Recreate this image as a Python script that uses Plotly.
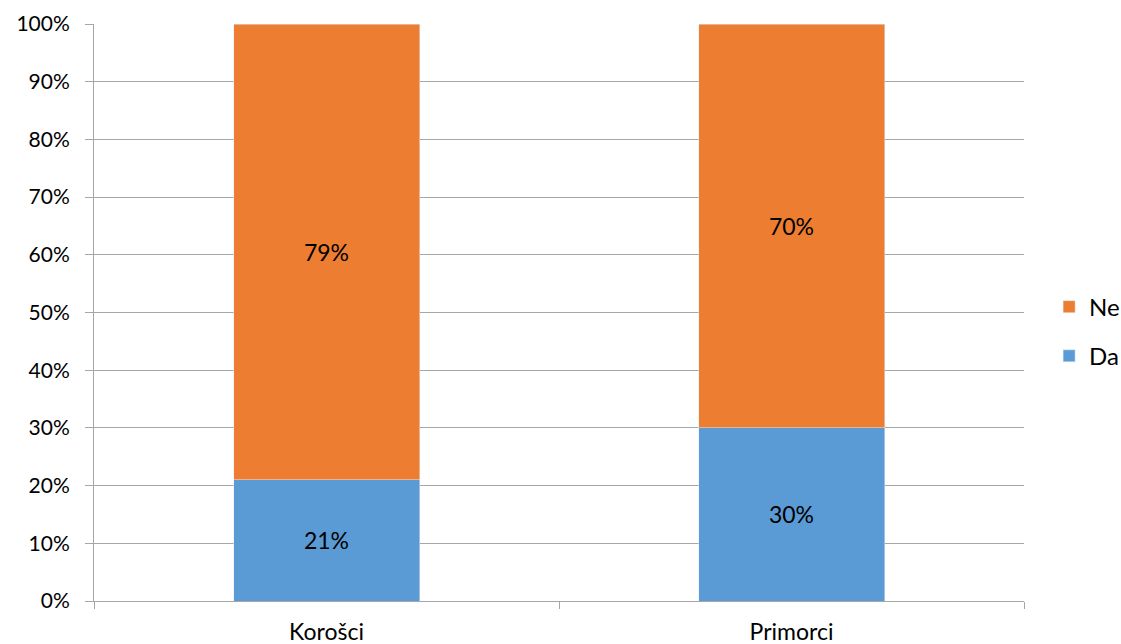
import plotly.graph_objects as go

categories = ["Korošci", "Primorci"]
da_values = [21, 30]
ne_values = [79, 70]
y_ticks = list(range(0, 101, 10))
y_tick_labels = [f"{v}%" for v in y_ticks]

FONT = "Lato, 'Liberation Sans', sans-serif"
GRID = "#a6a6a6"

fig = go.Figure()
fig.add_trace(go.Bar(
    name="Da", x=categories, y=da_values, marker_color="#5B9BD5",
    text=[f"{v}%" for v in da_values], textposition="inside",
    insidetextanchor="middle", textfont=dict(color="black", size=23, family=FONT),
    legendgroup="da", legendrank=2, width=0.4,
))
fig.add_trace(go.Bar(
    name="Ne", x=categories, y=ne_values, marker_color="#ED7D31",
    text=[f"{v}%" for v in ne_values], textposition="inside",
    insidetextanchor="middle", textfont=dict(color="black", size=23, family=FONT),
    legendgroup="ne", legendrank=1, width=0.4,
))

fig.update_layout(
    barmode="stack",
    width=1121, height=644,
    margin=dict(l=94, r=97, t=24, b=43, autoexpand=False),
    paper_bgcolor="white", plot_bgcolor="white",
    font=dict(family=FONT, size=21, color="black"),
    legend=dict(
        x=1.027, xanchor="left", y=0.467, yanchor="middle",
        traceorder="grouped", tracegroupgap=15,
        font=dict(size=24, family=FONT),
    ),
    uniformtext=dict(mode=False),
)
fig.update_xaxes(
    range=[-0.5, 1.5], tickson="boundaries", ticks="outside", ticklen=7,
    tickcolor=GRID, showline=True, linecolor=GRID, linewidth=1,
    showgrid=False, tickfont=dict(size=23, family=FONT),
    ticklabelstandoff=10, automargin=False,
)
fig.update_yaxes(
    range=[0, 100], tickvals=y_ticks, ticktext=y_tick_labels,
    ticks="outside", ticklen=8, tickcolor=GRID, showline=True, linecolor=GRID,
    showgrid=True, gridcolor=GRID, gridwidth=1, zeroline=False,
    tickfont=dict(size=21, family=FONT), ticklabelstandoff=11, automargin=False,
)

fig.write_html("out.html")
